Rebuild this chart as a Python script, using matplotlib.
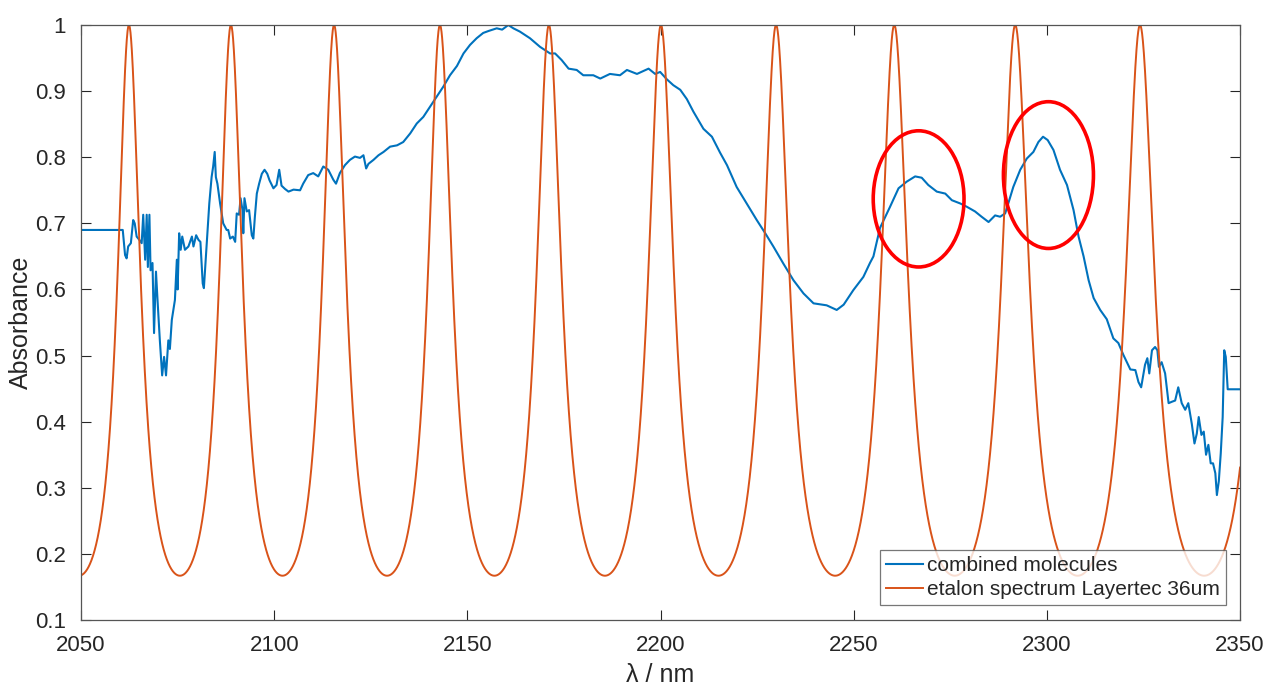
import numpy as np
import matplotlib
matplotlib.use("Agg")
import matplotlib.pyplot as plt
from matplotlib.patches import Ellipse

plt.rcParams["font.family"] = ["Liberation Sans", "DejaVu Sans"]

# Measured absorbance of the combined molecules
wavelength_nm = [
    2050.0, 2060.8, 2061.4, 2061.8, 2062.2, 2062.9, 2063.5, 2063.9, 2064.4, 2065.1,
    2065.7, 2066.1, 2066.6, 2067.0, 2067.3, 2067.7, 2068.0, 2068.5, 2068.9, 2069.4,
    2069.8, 2070.4, 2071.0, 2071.5, 2072.0, 2072.6, 2073.0, 2073.5, 2074.3, 2074.8,
    2075.0, 2075.4, 2075.8, 2076.2, 2076.9, 2077.8, 2078.7, 2079.1, 2079.8, 2080.4,
    2080.9, 2081.5, 2081.8, 2082.5, 2083.2, 2083.8, 2084.2, 2084.6, 2084.9, 2085.3,
    2086.0, 2086.8, 2087.7, 2088.1, 2088.6, 2089.3, 2089.9, 2090.3, 2090.9, 2091.3,
    2091.8, 2092.0, 2092.3, 2092.9, 2093.5, 2094.2, 2094.6, 2095.0, 2095.5, 2096.1,
    2096.8, 2097.5, 2098.2, 2098.8, 2099.8, 2100.6, 2101.3, 2101.9, 2102.8, 2103.7,
    2105.0, 2106.7, 2107.5, 2108.8, 2110.1, 2111.4, 2112.7, 2114.0, 2115.3, 2116.0,
    2117.0, 2118.3, 2119.6, 2120.9, 2122.2, 2123.1, 2123.8, 2124.4, 2125.7, 2127.0,
    2128.3, 2130.0, 2131.8, 2133.4, 2135.2, 2136.9, 2138.6, 2140.3, 2142.1, 2143.8,
    2145.5, 2147.3, 2149.0, 2150.7, 2152.4, 2154.1, 2155.5, 2157.6, 2159.0, 2160.6,
    2161.9, 2163.6, 2166.2, 2168.8, 2171.4, 2172.7, 2174.4, 2176.2, 2178.3, 2180.0,
    2182.6, 2184.4, 2186.9, 2189.5, 2191.3, 2193.9, 2196.9, 2198.6, 2199.9, 2201.6,
    2203.3, 2205.1, 2206.8, 2208.5, 2211.1, 2213.3, 2215.4, 2217.2, 2219.7, 2222.3,
    2224.9, 2227.1, 2229.2, 2231.8, 2234.4, 2237.0, 2239.6, 2243.0, 2245.6, 2247.4,
    2249.9, 2252.5, 2254.2, 2255.1, 2256.8, 2259.4, 2261.6, 2263.7, 2265.9, 2267.6,
    2269.3, 2271.5, 2273.7, 2275.4, 2277.6, 2279.3, 2281.4, 2283.1, 2284.9, 2286.6,
    2287.9, 2289.2, 2290.0, 2291.3, 2293.1, 2294.8, 2296.5, 2297.8, 2299.0, 2300.2,
    2301.7, 2303.4, 2305.2, 2306.9, 2308.2, 2309.5, 2310.8, 2312.1, 2313.8, 2315.5,
    2317.2, 2318.5, 2319.8, 2321.6, 2322.9, 2323.7, 2324.4, 2325.4, 2326.0, 2326.5,
    2327.2, 2328.0, 2328.6, 2329.0, 2329.7, 2330.6, 2331.5, 2332.3, 2333.2, 2334.0,
    2334.9, 2335.8, 2336.6, 2337.5, 2338.2, 2338.8, 2339.3, 2340.0, 2340.6, 2341.2,
    2341.8, 2342.4, 2343.0, 2343.6, 2344.0, 2344.5, 2345.0, 2345.5, 2345.9, 2346.3,
    2346.8, 2350.0,
]
absorbance = [
    0.690, 0.690, 0.652, 0.647, 0.665, 0.670, 0.705, 0.700, 0.680, 0.675,
    0.670, 0.713, 0.645, 0.713, 0.634, 0.713, 0.629, 0.640, 0.534, 0.627,
    0.584, 0.523, 0.470, 0.498, 0.470, 0.523, 0.510, 0.554, 0.584, 0.645,
    0.600, 0.685, 0.660, 0.680, 0.660, 0.665, 0.680, 0.665, 0.682, 0.675,
    0.672, 0.609, 0.602, 0.665, 0.730, 0.770, 0.786, 0.808, 0.770, 0.760,
    0.730, 0.700, 0.690, 0.690, 0.677, 0.680, 0.672, 0.715, 0.713, 0.738,
    0.720, 0.685, 0.738, 0.718, 0.720, 0.682, 0.677, 0.710, 0.745, 0.760,
    0.775, 0.781, 0.775, 0.765, 0.753, 0.758, 0.781, 0.757, 0.752, 0.748,
    0.751, 0.750, 0.760, 0.773, 0.776, 0.771, 0.786, 0.781, 0.766, 0.760,
    0.776, 0.788, 0.796, 0.801, 0.799, 0.803, 0.783, 0.790, 0.796, 0.803,
    0.808, 0.816, 0.818, 0.823, 0.836, 0.851, 0.861, 0.876, 0.892, 0.907,
    0.924, 0.938, 0.957, 0.970, 0.980, 0.988, 0.991, 0.995, 0.993, 1.000,
    0.995, 0.990, 0.980, 0.967, 0.957, 0.957, 0.947, 0.934, 0.932, 0.924,
    0.924, 0.919, 0.926, 0.924, 0.932, 0.926, 0.934, 0.926, 0.929, 0.918,
    0.909, 0.902, 0.888, 0.869, 0.843, 0.831, 0.807, 0.788, 0.755, 0.730,
    0.705, 0.685, 0.665, 0.639, 0.614, 0.594, 0.579, 0.576, 0.569, 0.577,
    0.599, 0.619, 0.640, 0.650, 0.693, 0.725, 0.753, 0.763, 0.771, 0.769,
    0.758, 0.748, 0.745, 0.735, 0.730, 0.725, 0.718, 0.710, 0.702, 0.712,
    0.710, 0.715, 0.730, 0.755, 0.781, 0.798, 0.808, 0.823, 0.831, 0.826,
    0.811, 0.781, 0.758, 0.720, 0.680, 0.650, 0.614, 0.587, 0.569, 0.555,
    0.526, 0.519, 0.501, 0.479, 0.478, 0.460, 0.452, 0.486, 0.496, 0.473,
    0.508, 0.513, 0.508, 0.483, 0.490, 0.473, 0.428, 0.430, 0.432, 0.452,
    0.428, 0.418, 0.428, 0.397, 0.367, 0.382, 0.407, 0.380, 0.385, 0.350,
    0.365, 0.337, 0.337, 0.322, 0.289, 0.310, 0.352, 0.407, 0.508, 0.498,
    0.449, 0.449,
]

# Etalon transmission maxima (nm) and the minimum transmission level
etalon_peaks_nm = [2036.5, 2062.4, 2088.8, 2115.5, 2142.9, 2171.1, 2200.1,
                   2229.9, 2260.5, 2291.8, 2324.1, 2357.3]
etalon_min = 0.167

# Highlighted bands: (centre wavelength, centre absorbance, width nm, height)
highlights = [(2266.8, 0.737, 23.5, 0.206), (2300.4, 0.773, 23.3, 0.222)]

x_ticks = [2050, 2100, 2150, 2200, 2250, 2300, 2350]
y_ticks = [0.1, 0.2, 0.3, 0.4, 0.5, 0.6, 0.7, 0.8, 0.9, 1.0]
y_tick_labels = ["0.1", "0.2", "0.3", "0.4", "0.5", "0.6", "0.7", "0.8", "0.9", "1"]

# Airy transmission of the etalon: order number runs through the peak list
wl_fine = np.linspace(2050, 2350, 6000)
order = np.interp(wl_fine, etalon_peaks_nm, np.arange(len(etalon_peaks_nm)))
finesse_coeff = 1.0 / etalon_min - 1.0
etalon = 1.0 / (1.0 + finesse_coeff * np.sin(np.pi * order) ** 2)

text_color = "#262626"
fig = plt.figure(figsize=(12.8, 6.87), dpi=100)
ax = fig.add_axes([0.0633, 0.0975, 0.9055, 0.8661])

ax.plot(wavelength_nm, absorbance, color="#0072BD", lw=1.5,
        label="combined molecules")
ax.plot(wl_fine, etalon, color="#D95319", lw=1.4,
        label="etalon spectrum Layertec 36um")

for cx, cy, w, h in highlights:
    ax.add_patch(Ellipse((cx, cy), w, h, fill=False, edgecolor="#FF0000",
                         lw=2.6, zorder=5))

ax.set_xlim(2050, 2350)
ax.set_ylim(0.1, 1.0)
ax.set_xticks(x_ticks)
ax.set_yticks(y_ticks)
ax.set_yticklabels(y_tick_labels)
ax.tick_params(direction="in", length=7, width=0.8, top=True, right=True,
               labelsize=16, colors=text_color)
ax.tick_params(axis="x", pad=11)
ax.tick_params(axis="y", pad=11)
for s in ax.spines.values():
    s.set_color("#555555")
    s.set_linewidth(0.9)

ax.set_xlabel("λ / nm", fontsize=18, color=text_color)
ax.set_ylabel("Absorbance", fontsize=18, color=text_color)
ax.xaxis.set_label_coords(0.5, -0.073)
ax.yaxis.set_label_coords(-0.0414, 0.5)

leg = ax.legend(loc="lower right", bbox_to_anchor=(0.988, 0.0247),
                borderaxespad=0, fontsize=15, fancybox=False, frameon=True,
                handlelength=1.75, handletextpad=0.2, borderpad=0.3,
                labelspacing=0.25)
leg.get_frame().set_edgecolor("#555555")
leg.get_frame().set_linewidth(0.9)
for t in leg.get_texts():
    t.set_color(text_color)

fig.savefig("out.png", dpi=100)
